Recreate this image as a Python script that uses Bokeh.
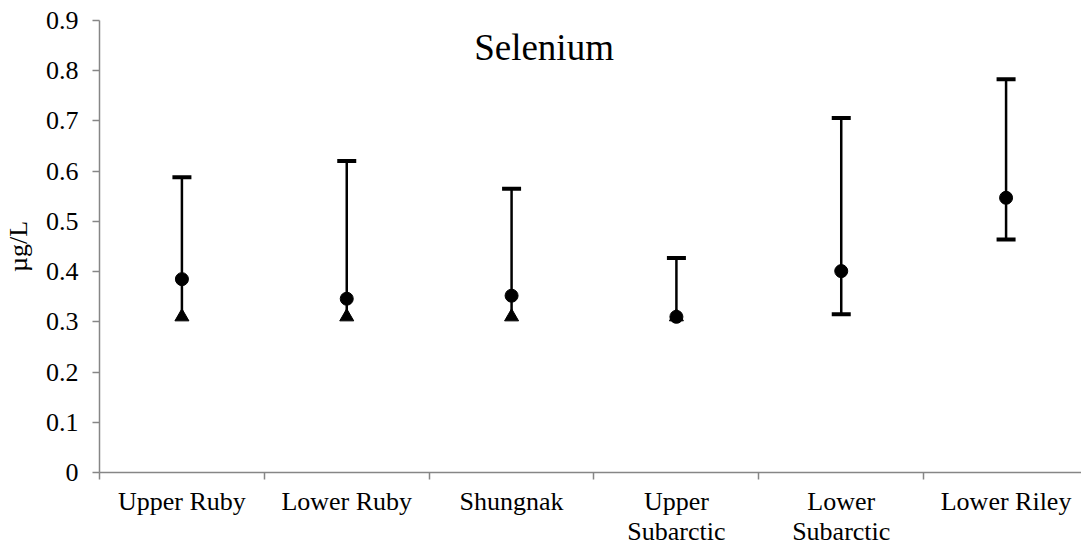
from bokeh.plotting import figure
from bokeh.models import Range1d, FixedTicker, ColumnDataSource
from bokeh.core.properties import value
from bokeh.embed import file_html
from bokeh.resources import INLINE
import math

# ---- data ----
categories = ["Upper Ruby", "Lower Ruby", "Shungnak", "Upper Subarctic", "Lower Subarctic", "Lower Riley"]
tick_labels = ["Upper Ruby", "Lower Ruby", "Shungnak", "Upper\nSubarctic", "Lower\nSubarctic", "Lower Riley"]
mean_vals = [0.385, 0.346, 0.352, 0.310, 0.401, 0.547]
upper_vals = [0.588, 0.620, 0.565, 0.427, 0.706, 0.783]
lower_vals = [0.310, 0.310, 0.310, 0.310, 0.315, 0.464]
limit_vals = [0.310, 0.310, 0.310, 0.310, float("nan"), float("nan")]
y_ticks = [0, 0.1, 0.2, 0.3, 0.4, 0.5, 0.6, 0.7, 0.8, 0.9]
y_tick_labels = ["0", "0.1", "0.2", "0.3", "0.4", "0.5", "0.6", "0.7", "0.8", "0.9"]
title_text = "Selenium"
y_label = "µg/L"

FONT = "'Liberation Serif', 'Times New Roman', serif"
AXIS_GRAY = "#868686"

W, H = 1081, 548
left, top, bottom = 98, 20, 76
band_px = 165.0
x_end = (W - left) / band_px

p = figure(width=W, height=H, output_backend="svg", toolbar_location=None,
           x_range=Range1d(0, x_end), y_range=Range1d(0, 0.9),
           min_border_left=left, min_border_right=0, min_border_top=top,
           min_border_bottom=bottom)
p.outline_line_color = None
p.xgrid.grid_line_color = None
p.ygrid.grid_line_color = None
p.background_fill_color = "white"
p.border_fill_color = "white"

xs = [i + 0.5 for i in range(len(categories))]

# x axis
xa = p.xaxis[0]
xa.ticker = FixedTicker(ticks=xs, minor_ticks=list(range(len(categories) + 1)))
xa.major_label_overrides = {x: lab for x, lab in zip(xs, tick_labels)}
xa.major_tick_out = 0
xa.major_tick_in = 0
xa.minor_tick_out = 7
xa.minor_tick_in = 0
xa.minor_tick_line_color = AXIS_GRAY
xa.minor_tick_line_width = 1.5
xa.axis_line_color = AXIS_GRAY
xa.axis_line_width = 1.5
xa.major_label_text_font = FONT
xa.major_label_text_font_size = "26px"
xa.major_label_text_line_height = 1.05
xa.major_label_text_color = "black"
xa.major_label_standoff = 7

# y axis
ya = p.yaxis[0]
ya.ticker = FixedTicker(ticks=y_ticks, minor_ticks=[])
ya.major_label_overrides = {t: s for t, s in zip(y_ticks, y_tick_labels)}
ya.major_tick_out = 7
ya.major_tick_in = 0
ya.major_tick_line_color = AXIS_GRAY
ya.major_tick_line_width = 1.5
ya.axis_line_color = AXIS_GRAY
ya.axis_line_width = 1.5
ya.major_label_text_font = FONT
ya.major_label_text_font_size = "26px"
ya.major_label_text_color = "black"
ya.major_label_standoff = 14
ya.axis_label = y_label
ya.axis_label_text_font = FONT
ya.axis_label_text_font_size = "26px"
ya.axis_label_text_font_style = "normal"
ya.axis_label_text_color = "black"
ya.axis_label_standoff = 10

src = ColumnDataSource(dict(x=xs, mean=mean_vals, upper=upper_vals, lower=lower_vals, limit=limit_vals))

# error bars
p.segment(x0="x", y0="lower", x1="x", y1="upper", source=src, line_color="black", line_width=2.5)
p.rect(x="x", y="upper", width=19, height=4, width_units="screen", height_units="screen",
       source=src, fill_color="black", line_color=None)
low_x = [x for x, l in zip(xs, limit_vals) if math.isnan(l)]
low_y = [lo for lo, l in zip(lower_vals, limit_vals) if math.isnan(l)]
p.rect(x=low_x, y=low_y, width=19, height=4, width_units="screen", height_units="screen",
       fill_color="black", line_color=None)

# markers
p.scatter(x="x", y="limit", source=src, marker="triangle", size=14, fill_color="black", line_color="black")
p.scatter(x="x", y="mean", source=src, marker="circle", size=13, fill_color="black", line_color="black")

# in-plot title
p.text(x=[(543 - left) / band_px], y=[(472 - 47) / 502.2], text=[title_text],
       text_font=value(FONT), text_font_size="37px", text_align="center",
       text_baseline="alphabetic", text_color="black")

open("out.html", "w").write(file_html(p, INLINE))
